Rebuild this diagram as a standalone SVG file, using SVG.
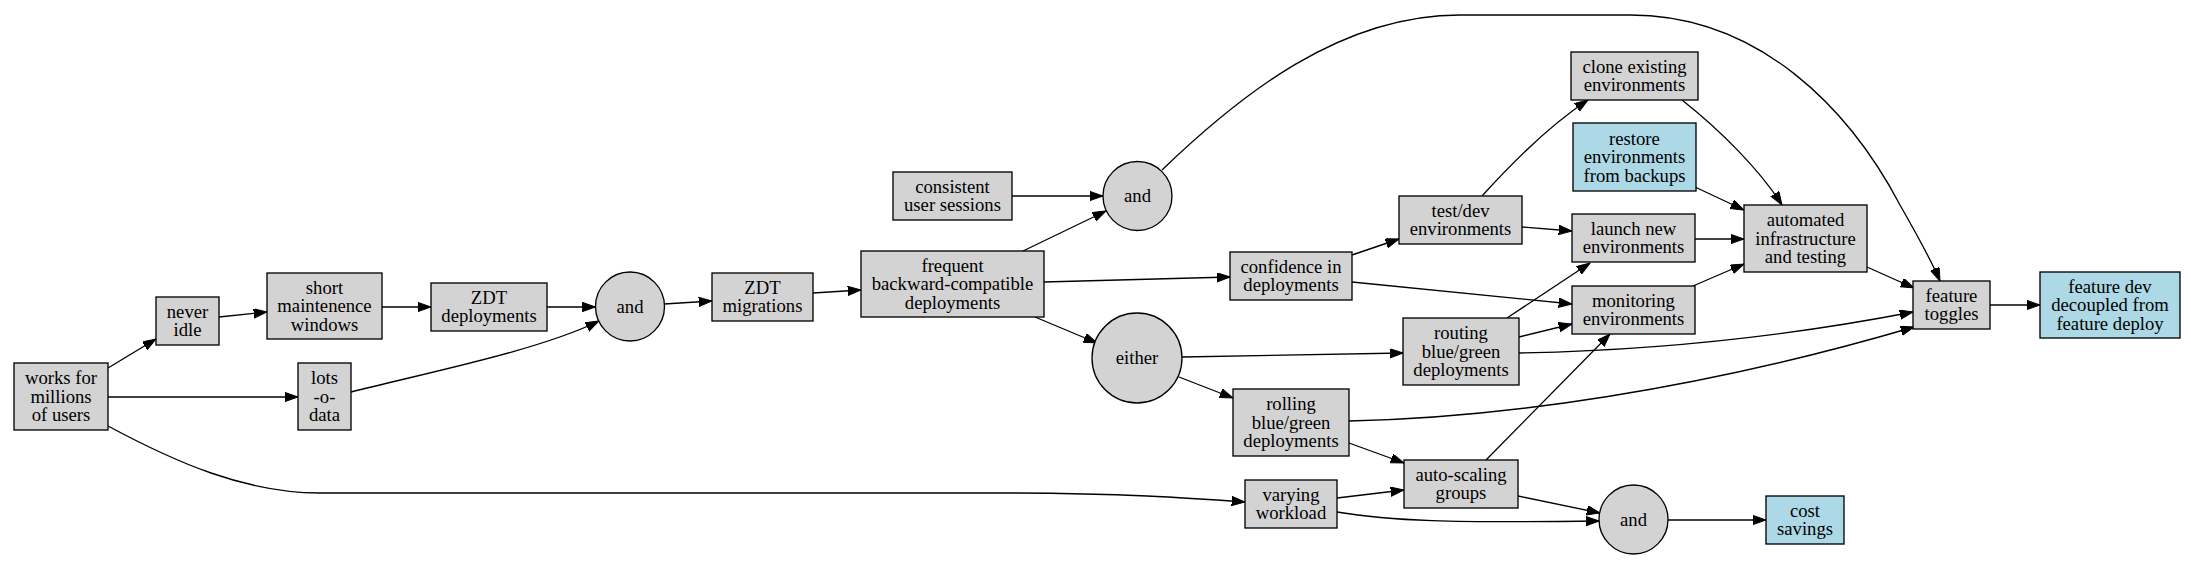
<svg xmlns="http://www.w3.org/2000/svg" width="2191" height="569" viewBox="0 0 2191 569" font-family="'Liberation Serif', 'Times New Roman', Times, 'Nimbus Roman', 'DejaVu Serif', serif">
<style>
.n rect, .n ellipse { fill: #d3d3d3; stroke: #000; stroke-width: 1.33; }
.n.b rect { fill: #add8e6; }
text { font-family: 'Liberation Serif', 'Times New Roman', Times, 'Nimbus Roman', 'DejaVu Serif', serif; font-size: 18.67px; text-anchor: middle; fill: #000; }
#edges path { fill: none; stroke: #000; stroke-width: 1.33; marker-end: url(#arr); }
</style>
<defs>
<marker id="arr" markerUnits="userSpaceOnUse" markerWidth="14" markerHeight="10" refX="13.3" refY="4.7" orient="auto">
<path d="M0,0 L13.3,4.7 L0,9.4 z" fill="#000" stroke="#000" stroke-width="1"/>
</marker>
</defs>
<rect width="2191" height="569" fill="#fff"/>
<g id="edges">
<path d="M108,368 L156,339"/>
<path d="M108,397 L298,397"/>
<path d="M108,426 C175,462 245,493 320,493 L1000,493 C1120,493 1190,498 1245,502"/>
<path d="M219,317 L267,312"/>
<path d="M382,307 L431,307"/>
<path d="M547,307 L595.5,307"/>
<path d="M351,392 C430,372 540,350 599,321"/>
<path d="M664,304 L712,301"/>
<path d="M813,293 L861,290"/>
<path d="M1023,251 L1106,211"/>
<path d="M1012,196 L1103,196"/>
<path d="M1162,170 C1240,95 1340,15 1460,15 L1630,15 C1760,15 1850,110 1900,205 C1920,240 1932,262 1940,281"/>
<path d="M1044,282 L1230,277"/>
<path d="M1035,317 L1097,343"/>
<path d="M1352,255 L1399,239"/>
<path d="M1352,282 L1572,304"/>
<path d="M1182,357 L1403,353"/>
<path d="M1179,377 L1233,398"/>
<path d="M1482,196 C1510,165 1550,125 1588,100"/>
<path d="M1522,227 L1572,231"/>
<path d="M1507,318 L1590,263"/>
<path d="M1519,337 L1572,324"/>
<path d="M1519,353 C1680,350 1820,330 1913,312"/>
<path d="M1349,421 C1500,418 1700,390 1914,327"/>
<path d="M1349,443 L1404,463"/>
<path d="M1337,498 L1404,490"/>
<path d="M1337,512 C1390,521 1450,523 1599,521"/>
<path d="M1518,496 L1600,513"/>
<path d="M1486,460 L1610,334"/>
<path d="M1668,520 L1766,520"/>
<path d="M1682,100 C1720,130 1760,170 1782,205"/>
<path d="M1695,187 L1744,210"/>
<path d="M1695,239 L1744,239"/>
<path d="M1693,286 L1744,264"/>
<path d="M1867,267 L1914,288"/>
<path d="M1990,305 L2040,305"/>
</g>
<g id="works" class="n"><rect x="14" y="363" width="94" height="67"/><text><tspan x="61" y="384">works for</tspan><tspan x="61" y="402.5">millions</tspan><tspan x="61" y="421">of users</tspan></text></g>
<g id="never" class="n"><rect x="156" y="297" width="63" height="48"/><text><tspan x="187.5" y="317.75">never</tspan><tspan x="187.5" y="336.25">idle</tspan></text></g>
<g id="short" class="n"><rect x="267" y="273" width="115" height="66"/><text><tspan x="324.5" y="293.5">short</tspan><tspan x="324.5" y="312">maintenence</tspan><tspan x="324.5" y="330.5">windows</tspan></text></g>
<g id="lots" class="n"><rect x="298" y="363" width="53" height="67"/><text><tspan x="324.5" y="384">lots</tspan><tspan x="324.5" y="402.5">-o-</tspan><tspan x="324.5" y="421">data</tspan></text></g>
<g id="zdtd" class="n"><rect x="431" y="283" width="116" height="48"/><text><tspan x="489" y="303.75">ZDT</tspan><tspan x="489" y="322.25">deployments</tspan></text></g>
<g id="and1" class="n"><ellipse cx="630" cy="306.5" rx="34.5" ry="34.5"/><text x="630" y="312.5">and</text></g>
<g id="zdtm" class="n"><rect x="712" y="273" width="101" height="48"/><text><tspan x="762.5" y="293.75">ZDT</tspan><tspan x="762.5" y="312.25">migrations</tspan></text></g>
<g id="frequent" class="n"><rect x="861" y="251" width="183" height="66"/><text><tspan x="952.5" y="271.5">frequent</tspan><tspan x="952.5" y="290">backward-compatible</tspan><tspan x="952.5" y="308.5">deployments</tspan></text></g>
<g id="consistent" class="n"><rect x="893" y="172" width="119" height="48"/><text><tspan x="952.5" y="192.75">consistent</tspan><tspan x="952.5" y="211.25">user sessions</tspan></text></g>
<g id="and2" class="n"><ellipse cx="1137.5" cy="196" rx="34.5" ry="34.5"/><text x="1137.5" y="202">and</text></g>
<g id="confidence" class="n"><rect x="1230" y="252" width="122" height="48"/><text><tspan x="1291" y="272.75">confidence in</tspan><tspan x="1291" y="291.25">deployments</tspan></text></g>
<g id="either" class="n"><ellipse cx="1137" cy="358" rx="45" ry="45"/><text x="1137" y="364">either</text></g>
<g id="testdev" class="n"><rect x="1399" y="196" width="123" height="48"/><text><tspan x="1460.5" y="216.75">test/dev</tspan><tspan x="1460.5" y="235.25">environments</tspan></text></g>
<g id="routing" class="n"><rect x="1403" y="318" width="116" height="67"/><text><tspan x="1461" y="339">routing</tspan><tspan x="1461" y="357.5">blue/green</tspan><tspan x="1461" y="376">deployments</tspan></text></g>
<g id="rolling" class="n"><rect x="1233" y="389" width="116" height="67"/><text><tspan x="1291" y="410">rolling</tspan><tspan x="1291" y="428.5">blue/green</tspan><tspan x="1291" y="447">deployments</tspan></text></g>
<g id="varying" class="n"><rect x="1245" y="480" width="92" height="48"/><text><tspan x="1291" y="500.75">varying</tspan><tspan x="1291" y="519.25">workload</tspan></text></g>
<g id="autoscaling" class="n"><rect x="1404" y="460" width="114" height="48"/><text><tspan x="1461" y="480.75">auto-scaling</tspan><tspan x="1461" y="499.25">groups</tspan></text></g>
<g id="and3" class="n"><ellipse cx="1633.5" cy="519.5" rx="34.5" ry="34.5"/><text x="1633.5" y="525.5">and</text></g>
<g id="cost" class="n b"><rect x="1766" y="496" width="78" height="48"/><text><tspan x="1805" y="516.75">cost</tspan><tspan x="1805" y="535.25">savings</tspan></text></g>
<g id="clone" class="n"><rect x="1571" y="52" width="127" height="48"/><text><tspan x="1634.5" y="72.75">clone existing</tspan><tspan x="1634.5" y="91.25">environments</tspan></text></g>
<g id="restore" class="n b"><rect x="1573" y="123" width="123" height="68"/><text><tspan x="1634.5" y="144.5">restore</tspan><tspan x="1634.5" y="163">environments</tspan><tspan x="1634.5" y="181.5">from backups</tspan></text></g>
<g id="launch" class="n"><rect x="1572" y="214" width="123" height="48"/><text><tspan x="1633.5" y="234.75">launch new</tspan><tspan x="1633.5" y="253.25">environments</tspan></text></g>
<g id="monitoring" class="n"><rect x="1572" y="286" width="123" height="48"/><text><tspan x="1633.5" y="306.75">monitoring</tspan><tspan x="1633.5" y="325.25">environments</tspan></text></g>
<g id="automated" class="n"><rect x="1744" y="205" width="123" height="67"/><text><tspan x="1805.5" y="226">automated</tspan><tspan x="1805.5" y="244.5">infrastructure</tspan><tspan x="1805.5" y="263">and testing</tspan></text></g>
<g id="toggles" class="n"><rect x="1913" y="281" width="77" height="48"/><text><tspan x="1951.5" y="301.75">feature</tspan><tspan x="1951.5" y="320.25">toggles</tspan></text></g>
<g id="featuredev" class="n b"><rect x="2040" y="272" width="140" height="66"/><text><tspan x="2110" y="292.5">feature dev</tspan><tspan x="2110" y="311">decoupled from</tspan><tspan x="2110" y="329.5">feature deploy</tspan></text></g>
</svg>
